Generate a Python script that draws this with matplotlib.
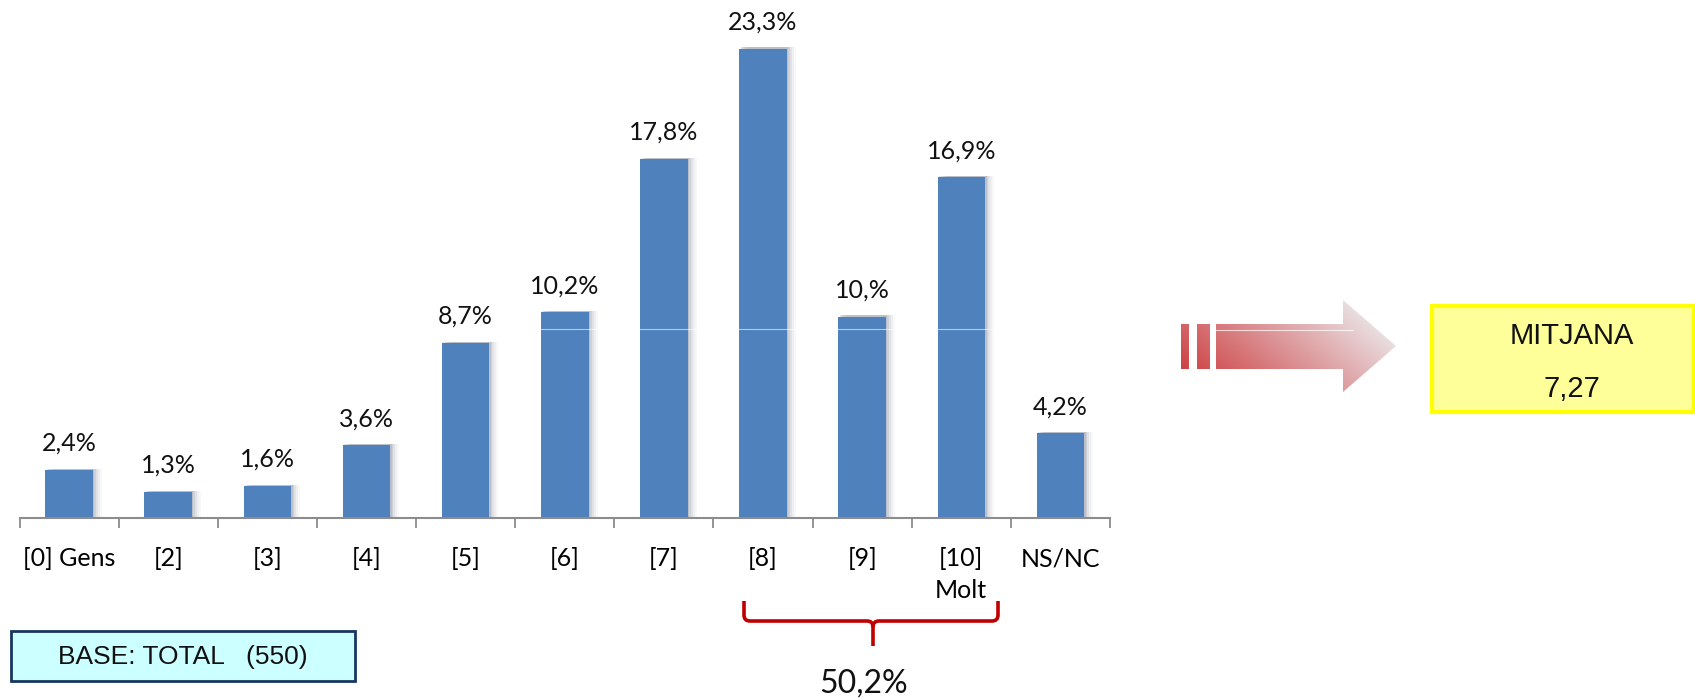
import numpy as np
import matplotlib
matplotlib.use('Agg')
import matplotlib.pyplot as plt
from matplotlib.path import Path
from matplotlib.patches import PathPatch, Rectangle

categories = ['[0] Gens', '[2]', '[3]', '[4]', '[5]', '[6]', '[7]', '[8]', '[9]', '[10]\nMolt', 'NS/NC']
values = [2.4, 1.3, 1.6, 3.6, 8.7, 10.2, 17.8, 23.3, 10.0, 16.9, 4.2]
value_labels = ['2,4%', '1,3%', '1,6%', '3,6%', '8,7%', '10,2%', '17,8%', '23,3%', '10,%', '16,9%', '4,2%']
group_total = '50,2%'
base_text = 'BASE: TOTAL   (550)'
mean_title = 'MITJANA'
mean_value = '7,27'

W, H = 1695, 698
fig = plt.figure(figsize=(W / 100, H / 100), dpi=100)
plt.rcParams['font.family'] = ['Lato', 'DejaVu Sans']

# main bar axes, placed in pixel terms
x0, x1, base_y = 19.5, 1110, 518
ax = fig.add_axes([x0 / W, (H - base_y) / H, (x1 - x0) / W, base_y / H])
ax.set_xlim(-0.5, len(values) - 0.5)
ax.set_ylim(0, base_y / 20.15)
x = np.arange(len(values))

# soft shadow to the right of every bar
px = 1 / 99.1
for off, a in [(9, 0.04), (7, 0.06), (5, 0.09), (3, 0.13), (1.5, 0.16)]:
    ax.bar(x + off * px, np.array(values) + 0.05, width=0.48, color='#55657d', alpha=a, zorder=1, linewidth=0)
ax.bar(x, values, width=0.48, color='#4F81BD', zorder=2, linewidth=0)
ax.axhline(9.4, color='white', lw=0.8, alpha=0.6, zorder=3)

for xi, v, lab in zip(x, values, value_labels):
    ax.annotate(lab, (xi, v), xytext=(0, 11), textcoords='offset points',
                ha='center', va='bottom', fontsize=18, color='#111111')

for s in ['top', 'left', 'right']:
    ax.spines[s].set_visible(False)
ax.spines['bottom'].set_color('#8c8c8c')
ax.spines['bottom'].set_linewidth(1.5)
ax.set_yticks([])
ax.set_xticks(np.arange(len(values) + 1) - 0.5)
ax.set_xticklabels([])
ax.tick_params(axis='x', which='major', length=7, width=1.3, color='#8c8c8c', direction='out')
ax.set_xticks(x, minor=True)
ax.set_xticklabels(categories, minor=True, fontsize=18, linespacing=1.45)
ax.tick_params(axis='x', which='minor', length=0, pad=21)

# overlay for annotations, pixel coordinates
ov = fig.add_axes([0, 0, 1, 1], zorder=5)
ov.set_xlim(0, W)
ov.set_ylim(H, 0)
ov.axis('off')
ov.patch.set_alpha(0)

# red brace under [8]..[10]
bx0, bx1, bmid = 744, 998, 873
ytop, yline, ytip = 601, 621, 646
r = 6
verts = [(bx0, ytop), (bx0, yline - r), (bx0, yline), (bx0 + r, yline),
         (bmid - r, yline), (bmid, yline), (bmid, yline + r), (bmid, ytip)]
codes = [Path.MOVETO, Path.LINETO, Path.CURVE3, Path.CURVE3,
         Path.LINETO, Path.CURVE3, Path.CURVE3, Path.LINETO]
verts2 = [(bx1, ytop), (bx1, yline - r), (bx1, yline), (bx1 - r, yline),
          (bmid + r, yline), (bmid, yline), (bmid, yline + r)]
codes2 = [Path.MOVETO, Path.LINETO, Path.CURVE3, Path.CURVE3,
          Path.LINETO, Path.CURVE3, Path.CURVE3]
for vv, cc in [(verts, codes), (verts2, codes2)]:
    ov.add_patch(PathPatch(Path(vv, cc), fill=False, edgecolor='#C00000', lw=2.6, capstyle='butt'))
ov.text(864, 684, group_total, ha='center', va='center', fontsize=23, color='#111111')

# base box
ov.add_patch(Rectangle((11, 631), 344, 50, facecolor='#CCFFFF', edgecolor='#17375E', lw=2))
ov.text(183, 657, base_text, ha='center', va='center', fontsize=19,
        family=['Liberation Sans', 'DejaVu Sans'], color='#111111')

# gradient arrow
ax0, axe = 1181, 1396
ay0, ay1 = 300, 392
sy0, sy1 = 324, 369
headx = 1343
ymid = (ay0 + ay1) / 2
arrow_verts = [(1181, sy0), (1189, sy0), (1189, sy1), (1181, sy1), (1181, sy0),
               (1197, sy0), (1210, sy0), (1210, sy1), (1197, sy1), (1197, sy0),
               (1216, sy0), (headx, sy0), (headx, ay0), (axe, ymid), (headx, ay1),
               (headx, sy1), (1216, sy1), (1216, sy0)]
arrow_codes = [Path.MOVETO] + [Path.LINETO] * 3 + [Path.CLOSEPOLY] + \
              [Path.MOVETO] + [Path.LINETO] * 3 + [Path.CLOSEPOLY] + \
              [Path.MOVETO] + [Path.LINETO] * 6 + [Path.CLOSEPOLY]
arrow_path = PathPatch(Path(arrow_verts, arrow_codes), facecolor='none', edgecolor='none')
ov.add_patch(arrow_path)
gx, gy = np.meshgrid(np.linspace(0, 1, 200), np.linspace(0, 1, 100))
t = np.clip(0.8 * gx + 0.4 * (1 - gy) - 0.05, 0, 1)
c0 = np.array([0.80, 0.22, 0.23])
c1 = np.array([0.92, 0.90, 0.91])
img = c0[None, None, :] * (1 - t[..., None]) + c1[None, None, :] * t[..., None]
im = ov.imshow(img, extent=(ax0, axe, ay1, ay0), origin='upper', aspect='auto', zorder=4)
im.set_clip_path(arrow_path)
ov.plot([1216, headx + 10], [sy0 + 6, sy0 + 6], color='white', lw=0.8, alpha=0.7, zorder=5)
ov.set_xlim(0, W)
ov.set_ylim(H, 0)

# mean box
ov.add_patch(Rectangle((1432, 306), 262, 106, facecolor='#FFFF99', edgecolor='#FFFF00', lw=3, zorder=6))
ov.text(1572, 336, mean_title, ha='center', va='center', fontsize=21,
        family=['Liberation Sans', 'DejaVu Sans'], color='#111111', zorder=7)
ov.text(1572, 389, mean_value, ha='center', va='center', fontsize=21,
        family=['Liberation Sans', 'DejaVu Sans'], color='#111111', zorder=7)

fig.savefig('out.png', dpi=100)
